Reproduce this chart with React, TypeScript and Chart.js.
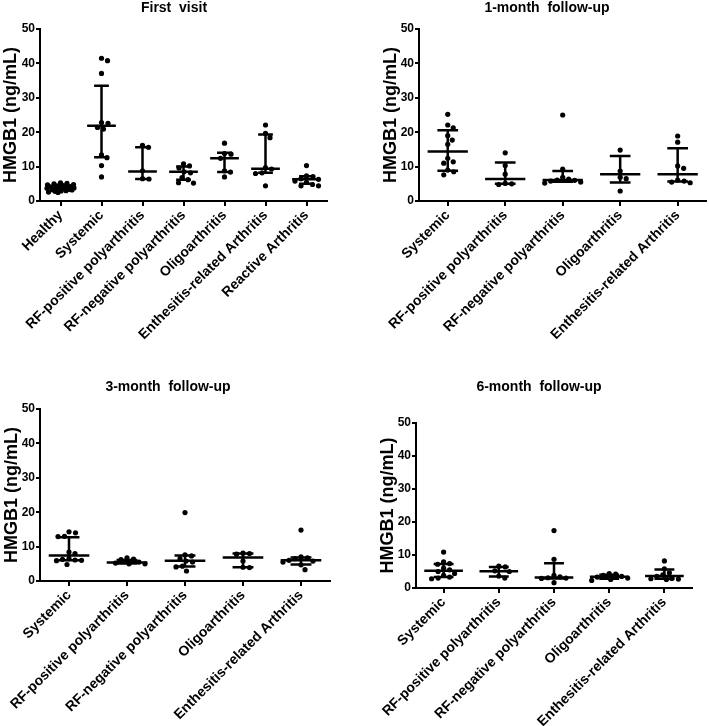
import React, { useEffect, useRef } from "react";
import { Chart, registerables } from "chart.js";
Chart.register(...registerables);

const FONT = "'Liberation Sans', Arial, Helvetica, sans-serif";
const Y_TITLE = "HMGB1 (ng/mL)";

// ---------- Panel 1: First visit ----------
const firstTitle = "First  visit";
const firstCategories = [
  "Healthy",
  "Systemic",
  "RF-positive polyarthritis",
  "RF-negative polyarthritis",
  "Oligoarthritis",
  "Enthesitis-related Arthritis",
  "Reactive Arthritis",
];
const firstValues = [
  [5.3, 5.1, 5.0, 4.8, 4.7, 4.5, 4.4, 4.2, 4.1, 4.0, 3.9, 3.8, 3.8, 3.7, 3.6, 3.5, 3.4, 3.3, 3.2, 3.0, 2.9, 2.8, 2.6, 2.5],
  [41.5, 40.8, 37.1, 22.8, 22.6, 21.4, 20.9, 13.4, 12.6, 10.3, 7.0],
  [16.2, 15.6, 8.8, 6.5, 6.4],
  [10.8, 10.2, 9.6, 8.5, 8.2, 6.8, 6.2, 5.3, 5.2],
  [16.8, 13.8, 13.6, 12.4, 8.8, 8.4, 7.0],
  [22.1, 19.7, 18.4, 9.7, 9.3, 8.2, 8.0, 4.4],
  [10.3, 7.3, 7.1, 6.5, 6.3, 5.8, 5.4, 4.8, 4.4, 4.4],
];
const firstMedian = [3.9, 21.9, 8.6, 8.5, 12.4, 9.4, 6.3];
const firstQ1 = [3.2, 12.7, 6.4, 6.2, 8.4, 8.2, 5.0];
const firstQ3 = [4.5, 33.5, 15.6, 10.0, 14.0, 19.3, 7.2];

// ---------- Panel 2: 1-month follow-up ----------
const m1Title = "1-month  follow-up";
const followCategories = [
  "Systemic",
  "RF-positive polyarthritis",
  "RF-negative polyarthritis",
  "Oligoarthritis",
  "Enthesitis-related Arthritis",
];
const m1Values = [
  [25.2, 22.1, 21.3, 19.0, 17.7, 16.5, 12.4, 11.4, 11.0, 9.0, 8.5, 7.6],
  [14.0, 10.3, 7.8, 5.1, 5.0, 4.8],
  [25.0, 9.3, 6.9, 6.4, 6.1, 6.0, 5.8, 5.5, 5.2],
  [14.8, 8.7, 6.9, 6.5, 2.9],
  [18.9, 17.1, 10.2, 9.5, 6.1, 5.8, 5.5, 5.3],
];
const m1Median = [14.4, 6.4, 6.1, 7.8, 7.8];
const m1Q1 = [8.8, 5.0, 5.6, 5.4, 5.7];
const m1Q3 = [20.6, 11.2, 8.7, 13.1, 15.3];

// ---------- Panel 3: 3-month follow-up ----------
const m3Title = "3-month  follow-up";
const m3Values = [
  [14.3, 14.0, 13.0, 12.9, 8.4, 8.0, 6.5, 6.3, 6.1, 6.0, 5.9, 4.8],
  [6.7, 6.4, 6.2, 5.5, 5.2, 5.0, 5.0],
  [19.9, 7.6, 7.3, 6.5, 5.8, 5.5, 4.3, 4.1, 2.9],
  [8.1, 8.0, 7.8, 5.8, 4.0, 3.9],
  [14.8, 7.0, 6.7, 6.5, 6.0, 5.8, 5.5, 4.7, 3.3],
];
const m3Median = [7.4, 5.4, 5.9, 6.8, 6.0];
const m3Q1 = [6.0, 5.1, 4.2, 4.0, 4.8];
const m3Q3 = [12.7, 6.1, 7.4, 8.0, 6.8];

// ---------- Panel 4: 6-month follow-up ----------
const m6Title = "6-month  follow-up";
const m6Values = [
  [10.9, 7.9, 7.4, 7.2, 6.0, 5.5, 5.0, 4.4, 3.8, 3.3, 3.0, 2.8],
  [6.6, 6.4, 5.2, 5.0, 3.6, 3.0],
  [17.4, 8.7, 3.8, 3.4, 3.1, 3.0, 2.9, 1.6],
  [4.4, 4.2, 3.8, 3.5, 3.3, 3.0, 2.6, 2.3],
  [8.2, 5.8, 4.6, 4.0, 3.5, 2.9, 2.8, 2.7, 2.6],
];
const m6Median = [5.2, 5.1, 3.2, 3.4, 3.6];
const m6Q1 = [3.3, 3.5, 2.9, 2.8, 2.8];
const m6Q3 = [7.3, 6.4, 7.5, 4.0, 5.6];

type PanelCfg = {
  title: string;
  categories: string[];
  values: number[][];
  median: number[];
  q1: number[];
  q3: number[];
  left: number;
  top: number;
  width: number;
  height: number;
  padL: number;
  axisW: number;
  padTop: number;
  padRight: number;
  axisH: number;
  titleX: number;
  titleY: number;
};

const panels: PanelCfg[] = [
  {
    title: firstTitle, categories: firstCategories, values: firstValues,
    median: firstMedian, q1: firstQ1, q3: firstQ3,
    left: 0, top: 0, width: 354, height: 363,
    padL: 0, axisW: 40, padTop: 29, padRight: 27, axisH: 162, titleX: 174, titleY: 8,
  },
  {
    title: m1Title, categories: followCategories, values: m1Values,
    median: m1Median, q1: m1Q1, q3: m1Q3,
    left: 354, top: 0, width: 355, height: 363,
    padL: 26, axisW: 39, padTop: 29, padRight: 2, axisH: 162, titleX: 193, titleY: 8,
  },
  {
    title: m3Title, categories: followCategories, values: m3Values,
    median: m3Median, q1: m3Q1, q3: m3Q3,
    left: 0, top: 363, width: 354, height: 363,
    padL: 1, axisW: 39, padTop: 46, padRight: 24, axisH: 145, titleX: 168, titleY: 24,
  },
  {
    title: m6Title, categories: followCategories, values: m6Values,
    median: m6Median, q1: m6Q1, q3: m6Q3,
    left: 354, top: 363, width: 355, height: 363,
    padL: 23, axisW: 39, padTop: 60, padRight: 17, axisH: 138, titleX: 185, titleY: 24,
  },
];

const R = 2.6;

function Panel({ cfg }: { cfg: PanelCfg }) {
  const ref = useRef<HTMLCanvasElement>(null);
  useEffect(() => {
    const canvas = ref.current;
    if (!canvas) return;
    const makeData = (offsets?: number[][]) => {
      const pts: { x: number; y: number }[] = [];
      cfg.values.forEach((vals, i) =>
        vals.forEach((v, j) => pts.push({ x: i + (offsets ? offsets[i][j] : 0), y: v }))
      );
      return pts;
    };
    const extras = {
      id: "panelExtras",
      afterDatasetsDraw(chart: any) {
        const { ctx } = chart;
        const xs = chart.scales.x;
        const ys = chart.scales.y;
        const unit = xs.getPixelForValue(1) - xs.getPixelForValue(0);
        ctx.save();
        ctx.strokeStyle = "#000";
        ctx.lineWidth = 2.5;
        ctx.lineCap = "butt";
        cfg.median.forEach((m, i) => {
          const cx = xs.getPixelForValue(i);
          const ym = ys.getPixelForValue(m);
          const y1 = ys.getPixelForValue(cfg.q1[i]);
          const y3 = ys.getPixelForValue(cfg.q3[i]);
          const hw = unit * 0.35;
          const cw = unit * 0.18;
          ctx.beginPath();
          ctx.moveTo(cx - hw, ym);
          ctx.lineTo(cx + hw, ym);
          ctx.moveTo(cx, y3);
          ctx.lineTo(cx, y1);
          ctx.moveTo(cx - cw, y3);
          ctx.lineTo(cx + cw, y3);
          ctx.moveTo(cx - cw, y1);
          ctx.lineTo(cx + cw, y1);
          ctx.stroke();
        });
        ctx.fillStyle = "#000";
        ctx.font = `bold 14px ${FONT}`;
        ctx.textAlign = "center";
        ctx.textBaseline = "middle";
        ctx.fillText(cfg.title, cfg.titleX, cfg.titleY);
        ctx.restore();
      },
    };
    const gridOpts = {
      display: true,
      drawOnChartArea: false,
      drawTicks: true,
      color: "#000",
      lineWidth: 2,
    };
    const chart = new Chart(canvas, {
      type: "scatter",
      data: {
        datasets: [
          {
            data: makeData(),
            pointRadius: R,
            pointHoverRadius: R,
            pointBackgroundColor: "#000",
            pointBorderColor: "#000",
            pointBorderWidth: 0,
            showLine: false,
          },
        ],
      },
      options: {
        responsive: false,
        animation: false,
        events: [],
        layout: { padding: { left: cfg.padL, top: cfg.padTop, right: cfg.padRight, bottom: 0 } },
        plugins: {
          legend: { display: false },
          tooltip: { enabled: false },
          title: { display: false },
        },
        scales: {
          x: {
            type: "linear",
            min: -0.5,
            max: cfg.categories.length - 0.5,
            afterBuildTicks: (s: any) => {
              s.ticks = cfg.categories.map((_, i) => ({ value: i }));
            },
            afterFit: (s: any) => {
              s.height = cfg.axisH;
            },
            ticks: {
              autoSkip: false,
              maxRotation: 45,
              minRotation: 45,
              padding: 1,
              color: "#000",
              font: { family: FONT, weight: "bold", size: 14 },
              callback: (v: any) => cfg.categories[Math.round(Number(v))] ?? "",
            },
            grid: { ...gridOpts, tickLength: 5 },
            border: { display: true, color: "#000", width: 2 },
          },
          y: {
            type: "linear",
            min: 0,
            max: 50,
            afterFit: (s: any) => {
              s.width = cfg.axisW;
            },
            ticks: {
              stepSize: 10,
              padding: 1,
              color: "#000",
              font: { family: FONT, weight: "bold", size: 12 },
            },
            grid: { ...gridOpts, tickLength: 4 },
            border: { display: true, color: "#000", width: 2 },
            title: {
              display: true,
              text: Y_TITLE,
              color: "#000",
              font: { family: FONT, weight: "bold", size: 18 },
              padding: 0,
            },
          },
        },
      } as any,
      plugins: [extras],
    });

    // beeswarm spread of points around each category centre
    const xs: any = chart.scales.x;
    const ys: any = chart.scales.y;
    const unit = xs.getPixelForValue(1) - xs.getPixelForValue(0);
    const D = 2 * R + 0.9;
    const maxOff = unit * 0.34;
    const offsets = cfg.values.map((vals) => {
      const order = vals.map((_, j) => j).sort((a, b) => vals[b] - vals[a]);
      const placed: { x: number; y: number }[] = [];
      const res = new Array(vals.length).fill(0);
      order.forEach((j) => {
        const py = ys.getPixelForValue(vals[j]);
        let best = 0;
        let bestScore = -1;
        let found = false;
        for (let k = 0; k < 400; k++) {
          const cand = k === 0 ? 0 : (k % 2 ? 1 : -1) * Math.ceil(k / 2) * 0.5;
          if (Math.abs(cand) > maxOff) break;
          const minD = placed.reduce((m, p) => Math.min(m, Math.hypot(p.x - cand, p.y - py)), Infinity);
          if (minD >= D) {
            best = cand;
            found = true;
            break;
          }
          if (minD > bestScore) {
            bestScore = minD;
            best = cand;
          }
        }
        if (!found && bestScore < 0) best = 0;
        placed.push({ x: best, y: py });
        res[j] = best / unit;
      });
      return res;
    });
    (chart.data.datasets[0] as any).data = makeData(offsets);
    chart.update("none");

    return () => chart.destroy();
  }, [cfg]);

  return (
    <canvas
      ref={ref}
      width={cfg.width}
      height={cfg.height}
      style={{ position: "absolute", left: cfg.left, top: cfg.top, width: cfg.width, height: cfg.height }}
    />
  );
}

export default function App() {
  return (
    <div style={{ position: "absolute", left: 0, top: 0, width: 709, height: 726, background: "#fff" }}>
      {panels.map((p, i) => (
        <Panel key={i} cfg={p} />
      ))}
    </div>
  );
}
